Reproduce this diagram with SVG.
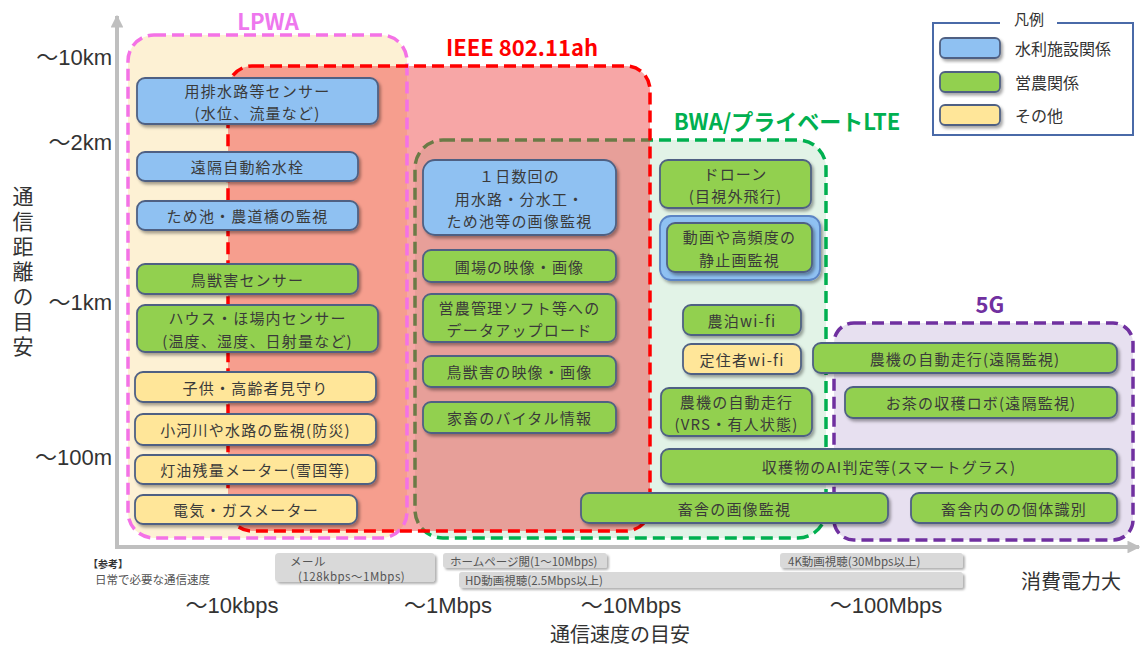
<svg xmlns="http://www.w3.org/2000/svg" width="1141" height="647" viewBox="0 0 1141 647">
  <defs>
    <filter id="sh" x="-10%" y="-20%" width="125%" height="150%">
      <feDropShadow dx="2" dy="2.5" stdDeviation="1.5" flood-color="#000" flood-opacity="0.35"/>
    </filter>
    <filter id="shg" x="-10%" y="-30%" width="125%" height="170%">
      <feDropShadow dx="2" dy="2" stdDeviation="1.2" flood-color="#000" flood-opacity="0.3"/>
    </filter>
    <marker id="axhead" viewBox="0 0 10 10" refX="9" refY="5" markerWidth="3.2" markerHeight="3.2" orient="auto">
      <path d="M0,0 L10,5 L0,10 Z" fill="#bfbfbf"/>
    </marker>
    <style>
      .ax { stroke:#bfbfbf; stroke-width:4; fill:none; }
      .lbl { font-family:"Liberation Sans","Noto Sans CJK JP",sans-serif; font-size:22px; fill:#333; }
      .jp { font-family:"Noto Sans CJK JP",sans-serif; fill:#333; }
      .ttl { font-family:"Noto Sans CJK JP",sans-serif; font-size:22px; font-weight:bold; text-anchor:middle; dominant-baseline:central; }
      .zone { stroke-width:3.5; stroke-dasharray:12 6; }
      .n { stroke:#4f6183; stroke-width:1.8; filter:url(#sh); }
      .b { fill:#8fc1f2; }
      .g { fill:#92d050; }
      .y { fill:#ffe699; }
      .t { font-family:"Noto Sans CJK JP",sans-serif; font-size:15px; fill:#3a3a3a; text-anchor:middle; dominant-baseline:central; letter-spacing:1.2px; }
      .ref { fill:#d9d9d9; filter:url(#shg); }
      .rt { font-family:"Noto Sans CJK JP",sans-serif; font-size:11.5px; fill:#555; }
      .vt { writing-mode:vertical-rl; text-orientation:upright; letter-spacing:4px; }
    </style>
  </defs>

  <rect width="1141" height="647" fill="#fff"/>

  <!-- axes -->
  <g id="axes">
    <line class="ax" x1="117" y1="547" x2="117" y2="16" marker-end="url(#axhead)"/>
    <line class="ax" x1="115" y1="547" x2="1139" y2="547" marker-end="url(#axhead)"/>
  </g>

  <!-- distance scale -->
  <g id="y-labels">
    <text class="lbl" x="112" y="65" text-anchor="end">～10km</text>
    <text class="lbl" x="112" y="150" text-anchor="end">～2km</text>
    <text class="lbl" x="112" y="310" text-anchor="end">～1km</text>
    <text class="lbl" x="112" y="465" text-anchor="end">～100m</text>
    <text class="jp vt" x="23" y="186" font-size="21">通信距離の目安</text>
  </g>

  <!-- coverage zones -->
  <g id="zones">
    <rect x="128" y="35" width="279" height="503" rx="26" fill="#fdf1d4"/>
    <rect id="zone-bwa" class="zone" x="415" y="140" width="411" height="398" rx="28" fill="#e2f3e7" stroke="#00b050"/>
    <rect id="zone-5g" class="zone" x="834" y="323" width="299" height="217" rx="20" fill="#e7e0f0" stroke="#7030a0"/>
    <rect x="228" y="66" width="422" height="465" rx="24" fill="#ee3a3a" fill-opacity="0.45"/>
    <rect id="zone-lpwa" class="zone" x="128" y="35" width="279" height="503" rx="26" fill="none" stroke="#f472e6"/>
    <rect id="zone-ieee" class="zone" x="228" y="66" width="422" height="465" rx="24" fill="none" stroke="#ff0000"/>
    <text class="ttl" x="268" y="20" fill="#ee77ee">LPWA</text>
    <text class="ttl" x="522" y="46" fill="#ff0000">IEEE 802.11ah</text>
    <text class="ttl" x="787" y="120" fill="#00b050">BWA/プライベートLTE</text>
    <text class="ttl" x="990" y="303" fill="#7030a0">5G</text>
  </g>

  <!-- legend -->
  <g id="legend">
    <path d="M1000,23 H933 V135 H1133 V23 H1057" fill="none" stroke="#4a6aa8" stroke-width="2"/>
    <text class="jp" x="1029" y="18" font-size="15" fill="#555" text-anchor="middle" dominant-baseline="central">凡例</text>
    <rect class="n b" x="940" y="38" width="60" height="20" rx="5"/>
    <rect class="n g" x="940" y="72" width="60" height="20" rx="5"/>
    <rect class="n y" x="940" y="105" width="60" height="20" rx="5"/>
    <g class="jp" font-size="16" fill="#555" dominant-baseline="central">
      <text x="1015" y="48">水利施設関係</text>
      <text x="1015" y="82">営農関係</text>
      <text x="1015" y="115">その他</text>
    </g>
  </g>

  <!-- LPWA uses -->
  <g id="n1"><rect class="n b" x="137" y="78" width="241" height="46" rx="8"/>
    <text class="t" x="257.5" y="90">用排水路等センサー<tspan x="257.5" dy="22">(水位、流量など)</tspan></text></g>
  <g id="n2"><rect class="n b" x="137" y="152" width="221" height="29" rx="8"/><text class="t" x="247.5" y="166.5">遠隔自動給水栓</text></g>
  <g id="n3"><rect class="n b" x="137" y="201" width="221" height="29" rx="8"/><text class="t" x="247.5" y="215.5">ため池・農道橋の監視</text></g>
  <g id="n4"><rect class="n g" x="137" y="264" width="221" height="30" rx="8"/><text class="t" x="247.5" y="279">鳥獣害センサー</text></g>
  <g id="n5"><rect class="n g" x="137" y="305" width="241" height="47" rx="8"/>
    <text class="t" x="257.5" y="317.5">ハウス・ほ場内センサー<tspan x="257.5" dy="22">(温度、湿度、日射量など)</tspan></text></g>
  <g id="n6"><rect class="n y" x="135" y="372" width="241" height="30" rx="8"/><text class="t" x="255.5" y="387">子供・高齢者見守り</text></g>
  <g id="n7"><rect class="n y" x="135" y="414" width="241" height="31" rx="8"/><text class="t" x="255.5" y="429.5">小河川や水路の監視(防災)</text></g>
  <g id="n8"><rect class="n y" x="135" y="455" width="241" height="29" rx="8"/><text class="t" x="255.5" y="469.5">灯油残量メーター(雪国等)</text></g>
  <g id="n9"><rect class="n y" x="135" y="495" width="222" height="29" rx="8"/><text class="t" x="246" y="509.5">電気・ガスメーター</text></g>

  <!-- IEEE 802.11ah uses -->
  <g id="n10"><rect class="n b" x="423" y="160" width="193" height="75" rx="12"/>
    <text class="t" x="519.5" y="175.5">１日数回の<tspan x="519.5" dy="22">用水路・分水工・</tspan><tspan x="519.5" dy="22">ため池等の画像監視</tspan></text></g>
  <g id="n11"><rect class="n g" x="423" y="250" width="193" height="32" rx="8"/><text class="t" x="519.5" y="266">圃場の映像・画像</text></g>
  <g id="n12"><rect class="n g" x="423" y="294" width="193" height="48" rx="8"/>
    <text class="t" x="519.5" y="307">営農管理ソフト等への<tspan x="519.5" dy="22">データアップロード</tspan></text></g>
  <g id="n13"><rect class="n g" x="423" y="356" width="193" height="31" rx="8"/><text class="t" x="519.5" y="371.5">鳥獣害の映像・画像</text></g>
  <g id="n14"><rect class="n g" x="423" y="402" width="193" height="31" rx="8"/><text class="t" x="519.5" y="417.5">家畜のバイタル情報</text></g>

  <!-- BWA / private LTE uses -->
  <g id="n15"><rect class="n g" x="660" y="160" width="151" height="48" rx="8"/>
    <text class="t" x="735.5" y="173">ドローン<tspan x="735.5" dy="22">(目視外飛行)</tspan></text></g>
  <g id="n16"><rect x="660" y="216" width="160" height="64" rx="11" fill="#8fc1f2" stroke="#5b84c4" stroke-width="1.8" filter="url(#sh)"/>
    <rect class="n g" x="667" y="223" width="145" height="49" rx="8"/>
    <text class="t" x="739.5" y="236.5">動画や高頻度の<tspan x="739.5" dy="22">静止画監視</tspan></text></g>
  <g id="n17"><rect class="n g" x="683" y="305" width="118" height="30" rx="8"/><text class="t" x="742" y="320">農泊wi-fi</text></g>
  <g id="n18"><rect class="n y" x="683" y="344" width="118" height="30" rx="8"/><text class="t" x="742" y="359">定住者wi-fi</text></g>
  <g id="n19"><rect class="n g" x="661" y="388" width="151" height="48" rx="8"/>
    <text class="t" x="736.5" y="401">農機の自動走行<tspan x="736.5" dy="22">(VRS・有人状態)</tspan></text></g>

  <!-- 5G uses -->
  <g id="n20"><rect class="n g" x="813" y="343" width="304" height="30" rx="8"/><text class="t" x="965" y="358">農機の自動走行(遠隔監視)</text></g>
  <g id="n21"><rect class="n g" x="845" y="387" width="272" height="31" rx="8"/><text class="t" x="981" y="402.5">お茶の収穫ロボ(遠隔監視)</text></g>
  <g id="n22"><rect class="n g" x="661" y="449" width="456" height="35" rx="8"/><text class="t" x="889" y="466.5">収穫物のAI判定等(スマートグラス)</text></g>
  <g id="n23"><rect class="n g" x="581" y="493" width="307" height="30" rx="8"/><text class="t" x="734.5" y="508">畜舎の画像監視</text></g>
  <g id="n24"><rect class="n g" x="911" y="493" width="206" height="30" rx="8"/><text class="t" x="1014" y="508">畜舎内のの個体識別</text></g>

  <!-- everyday bandwidth reference -->
  <g id="reference">
    <text class="jp" x="88" y="563" font-size="10" font-weight="bold" fill="#333" dominant-baseline="central">【参考】</text>
    <text class="rt" x="95" y="579" font-size="11" dominant-baseline="central">日常で必要な通信速度</text>
    <rect class="ref" x="275" y="553" width="160" height="29" rx="4"/>
    <text class="rt" x="290" y="561" font-size="10.5" letter-spacing="0.5" dominant-baseline="central">メール<tspan x="298" dy="15.3">(128kbps～1Mbps)</tspan></text>
    <rect class="ref" x="443" y="553" width="164" height="15" rx="3"/>
    <text class="rt" x="450" y="561" dominant-baseline="central">ホームページ閲(1～10Mbps)</text>
    <rect class="ref" x="459" y="572" width="504" height="16" rx="3"/>
    <text class="rt" x="465" y="580" dominant-baseline="central">HD動画視聴(2.5Mbps以上)</text>
    <rect class="ref" x="780" y="553" width="183" height="15" rx="3"/>
    <text class="rt" x="788" y="561" dominant-baseline="central">4K動画視聴(30Mbps以上)</text>
  </g>

  <!-- speed scale -->
  <g id="x-labels" text-anchor="middle">
    <text class="lbl" x="232" y="613">～10kbps</text>
    <text class="lbl" x="448" y="613">～1Mbps</text>
    <text class="lbl" x="631" y="613">～10Mbps</text>
    <text class="lbl" x="886" y="613">～100Mbps</text>
    <text class="jp" x="620" y="633" font-size="20" dominant-baseline="central">通信速度の目安</text>
    <text class="jp" x="1071" y="580" font-size="20" dominant-baseline="central">消費電力大</text>
  </g>
</svg>
